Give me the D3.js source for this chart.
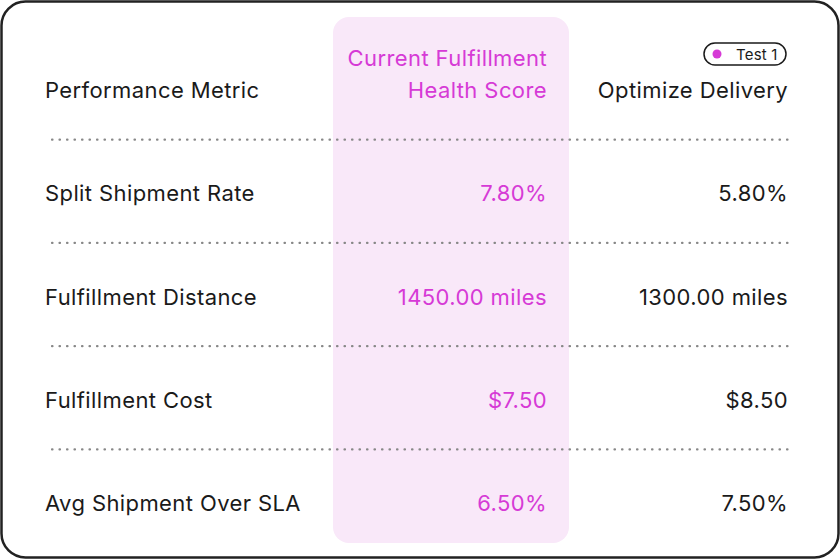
<!DOCTYPE html>
<meta charset='utf-8'>
<html>
<head>
<script src="https://d3js.org/d3.v7.min.js"></script>
<style>
body { margin:0; background:#fff; }
text { font-family: Inter, sans-serif; font-size:22px; letter-spacing:0.4px; }
</style>
</head>
<body>
<svg id="chart" width="840" height="560"></svg>
<script>
var metrics = ['Split Shipment Rate','Fulfillment Distance','Fulfillment Cost','Avg Shipment Over SLA'];
var currentScore = ['7.80%','1450.00 miles','$7.50','6.50%'];
var optimized = ['5.80%','1300.00 miles','$8.50','7.50%'];
var headers = ['Performance Metric', ['Current Fulfillment','Health Score'], 'Optimize Delivery'];
var badge = 'Test 1';

var pink = '#d63ad6', ink = '#1a1a1a';
var svg = d3.select('#chart');

svg.append('rect').attr('x',1.5).attr('y',1.5).attr('width',837).attr('height',556)
  .attr('rx',24).attr('fill','#fff').attr('stroke','#222').attr('stroke-width',2.5);
svg.append('rect').attr('x',333).attr('y',17).attr('width',236).attr('height',526)
  .attr('rx',16).attr('fill','#f9e8f9');

var y = d3.scaleLinear().domain([0,4]).range([98,511]);

// header
svg.append('text').attr('x',45).attr('y',y(0)).attr('fill',ink).text(headers[0]);
headers[1].forEach(function(t,i){
  svg.append('text').attr('x',547).attr('y',y(0)-32+i*32).attr('text-anchor','end')
    .attr('fill',pink).text(t);
});
svg.append('text').attr('x',788).attr('y',y(0)).attr('text-anchor','end').attr('fill',ink).text(headers[2]);

// badge
var b = svg.append('g').attr('transform','translate(704,43)');
b.append('rect').attr('width',82).attr('height',22).attr('rx',11)
  .attr('fill','#fff').attr('stroke',ink).attr('stroke-width',1.5);
b.append('circle').attr('cx',13).attr('cy',11).attr('r',4.5).attr('fill',pink);
b.append('text').attr('x',32).attr('y',16.5).attr('fill',ink).style('font-size','15px').style('letter-spacing','0.2px').text(badge);

// separators
[0,1,2,3].forEach(function(i){
  var ly = (y(i)+y(i+1))/2 - 10;
  svg.append('line').attr('x1',52).attr('x2',790).attr('y1',ly).attr('y2',ly)
    .attr('stroke','#888').attr('stroke-width',2.2).attr('stroke-dasharray','0.5,7')
    .attr('stroke-linecap','round');
});

// rows
metrics.forEach(function(m,i){
  var ry = y(i+1);
  svg.append('text').attr('x',45).attr('y',ry).attr('fill',ink).text(m);
  svg.append('text').attr('x',547).attr('y',ry).attr('text-anchor','end').attr('fill',pink).text(currentScore[i]);
  svg.append('text').attr('x',788).attr('y',ry).attr('text-anchor','end').attr('fill',ink).text(optimized[i]);
});
</script>
</body>
</html>
